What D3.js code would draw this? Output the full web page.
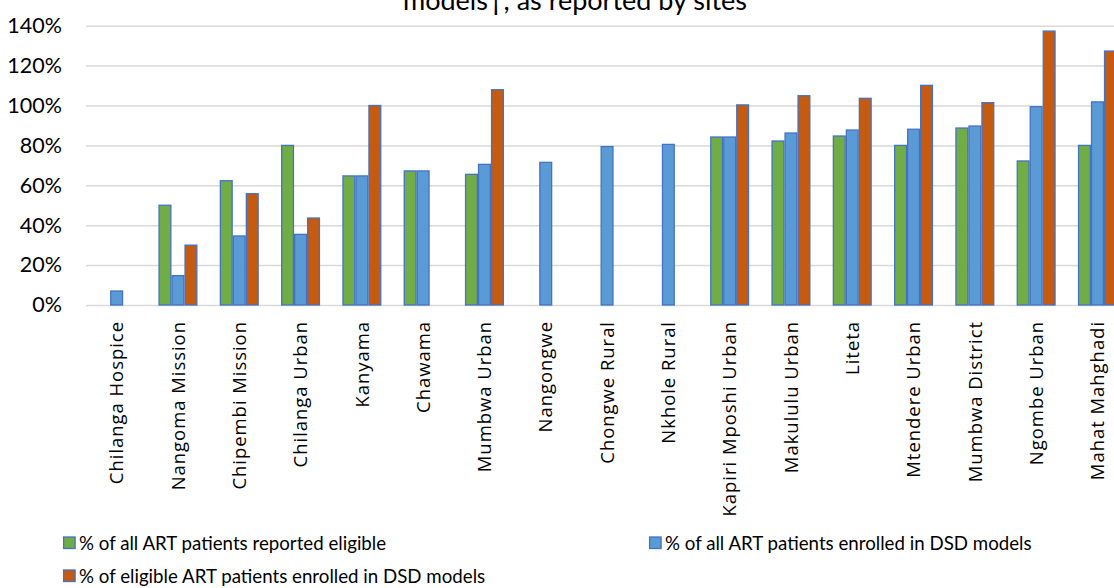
<!DOCTYPE html>
<html>
<head>
<meta charset="utf-8">
<script src="https://cdnjs.cloudflare.com/ajax/libs/d3/7.8.5/d3.min.js"></script>
<style>
  body { margin: 0; background: #fff; }
  svg text { font-family: Lato, "Open Sans", sans-serif; fill: #000; }
</style>
</head>
<body>
<div id="chart"></div>
<script>
// sites on the x axis
const sites = ["Chilanga Hospice", "Nangoma Mission", "Chipembi Mission", "Chilanga Urban",
  "Kanyama", "Chawama", "Mumbwa Urban", "Nangongwe", "Chongwe Rural", "Nkhole Rural",
  "Kapiri Mposhi Urban", "Makululu Urban", "Liteta", "Mtendere Urban", "Mumbwa District",
  "Ngombe Urban", "Mahat Mahghadi"];

// series values in percent (null = not reported)
const eligible = [null, 50, 62.3, 80, 64.7, 67.2, 65.5, null, null, null, 84.2, 82.2, 84.7, 80, 88.7, 72.2, 80];
const enrolledAll = [7, 14.7, 34.6, 35.4, 64.7, 67.2, 70.5, 71.5, 79.4, 80.5, 84.2, 86.2, 87.7, 88.1, 89.7, 99.4, 101.8];
const enrolledEligible = [null, 30, 55.8, 43.6, 100, null, 107.9, null, null, null, 100.3, 104.9, 103.6, 110.1, 101.4, 137.3, 127.3];

const yTicks = [0, 20, 40, 60, 80, 100, 120, 140];

const seriesNames = ["% of all ART patients reported eligible",
  "% of all ART patients enrolled in DSD models",
  "% of eligible ART patients enrolled in DSD models"];
const seriesColors = ["#70AD47", "#5B9BD5", "#C55A11"];
const seriesValues = [eligible, enrolledAll, enrolledEligible];

const width = 1114, height = 588;
const left = 86, step = 61.3;

const svg = d3.select("#chart").append("svg")
    .attr("width", width)
    .attr("height", height);

const x = d3.scaleBand()
    .domain(sites)
    .range([left, left + step * sites.length])
    .paddingInner(0.364)
    .paddingOuter(0.182);

const x1 = d3.scaleBand()
    .domain(d3.range(3))
    .range([0, x.bandwidth()]);

const y = d3.scaleLinear()
    .domain([0, 140])
    .range([305, 25.7]);

// gridlines + y labels
const yAxis = svg.append("g")
    .attr("transform", `translate(${left},0)`)
    .call(d3.axisLeft(y)
        .tickValues(yTicks)
        .tickFormat(d => d + "%")
        .tickSize(-(width - left))
        .tickPadding(24));
yAxis.select(".domain").remove();
yAxis.selectAll(".tick line")
    .attr("stroke", "#d9d9d9")
    .attr("stroke-width", 1.5);
yAxis.selectAll(".tick text")
    .style("font-size", "21.5px")
    .style("font-family", "Lato, sans-serif");

// title (its first line sits above the visible area, as in the source)
svg.append("text")
    .attr("x", 575)
    .attr("y", 10)
    .attr("text-anchor", "middle")
    .style("font-size", "27px")
    .text("models\u2020, as reported by sites");

// bars
const groups = svg.append("g")
    .selectAll("g")
    .data(sites)
    .join("g")
    .attr("transform", d => `translate(${x(d)},0)`);

groups.selectAll("rect")
    .data((d, i) => seriesValues.map((s, k) => ({ k: k, v: s[i] })).filter(e => e.v != null))
    .join("rect")
    .attr("x", d => x1(d.k) + 0.6)
    .attr("width", x1.bandwidth() - 1.2)
    .attr("y", d => y(d.v))
    .attr("height", d => y(0) - y(d.v))
    .attr("fill", d => seriesColors[d.k])
    .attr("stroke", "#4472C4")
    .attr("stroke-width", 1.3);

// category labels
const xAxis = svg.append("g")
    .attr("transform", `translate(0,${y(0)})`)
    .call(d3.axisBottom(x).tickSize(0));
xAxis.select(".domain").remove();
xAxis.selectAll(".tick text")
    .attr("transform", "rotate(-90)")
    .attr("text-anchor", "end")
    .attr("x", -16)
    .attr("y", 0)
    .attr("dy", "0.36em")
    .style("font-size", "18.5px")
    .style("letter-spacing", "0.95px")
    .style("font-family", "'Open Sans', sans-serif");

// legend
const legendPos = [[63, 543], [649, 543], [63, 576]];
const legend = svg.append("g")
    .selectAll("g")
    .data(seriesNames)
    .join("g")
    .attr("transform", (d, i) => `translate(${legendPos[i][0]},${legendPos[i][1]})`);

legend.append("rect")
    .attr("x", 0.6)
    .attr("y", -6)
    .attr("width", 11.5)
    .attr("height", 11.5)
    .attr("fill", (d, i) => seriesColors[i])
    .attr("stroke", "#4472C4")
    .attr("stroke-width", 1.3);

legend.append("text")
    .attr("x", 16)
    .attr("y", 0)
    .attr("dy", "0.35em")
    .style("font-size", "18.7px")
    .text(d => d);
</script>
</body>
</html>
